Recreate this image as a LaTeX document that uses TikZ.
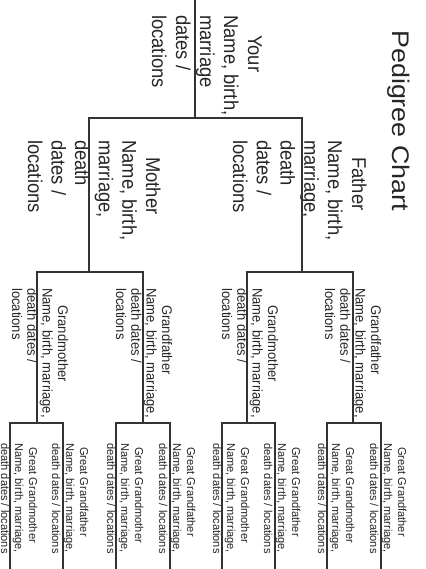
\documentclass[tikz,border=0pt]{standalone}
\usepackage{fontspec}
\setmainfont{Liberation Sans}
\newcommand\pgline[1]{\hbox{#1}}
\newcommand\pgblock[2]{\vtop{\baselineskip=#1\relax #2}}
\tikzset{
  person/.style={rotate=-90, anchor=base west, inner sep=0pt, text=black!85},
  big/.style={person, xscale=0.92, font=\fontsize{20}{24}\selectfont},
  mid/.style={person, xscale=0.93, font=\fontsize{14}{15}\selectfont},
  small/.style={person, xscale=0.96, font=\fontsize{11.5}{14}\selectfont},
  link/.style={draw=black!80, line width=1.6pt}
}
\begin{document}
\begin{tikzpicture}[x=1pt, y=-1pt]
\fill[white] (0,0) rectangle (425,569);
\useasboundingbox (0,0) rectangle (425,569);

% title
\node[person, xscale=1.12, font=\fontsize{24}{28}\selectfont] (title) at (392,30) {Pedigree Chart};

% generation 1-2
\node[big] (you) at (248,15) {\pgblock{24pt}{\pgline{\hspace*{21.7pt}Your}\pgline{Name, birth,}\pgline{marriage}\pgline{dates /}\pgline{locations}}};
\node[big] (father) at (352,140) {\pgblock{23.8pt}{\pgline{\hspace*{18.5pt}Father}\pgline{Name, birth,}\pgline{marriage,}\pgline{death}\pgline{dates /}\pgline{locations}}};
\node[big] (mother) at (146,140) {\pgblock{23.6pt}{\pgline{\hspace*{18.5pt}Mother}\pgline{Name, birth,}\pgline{marriage,}\pgline{death}\pgline{dates /}\pgline{locations}}};

% grandparents
\newcommand\gpar[1]{\pgblock{15.3pt}{\pgline{\hspace*{18.3pt}#1}\pgline{Name, birth, marriage,}\pgline{death dates /}\pgline{locations}}}
\node[mid] (ff) at (371,288) {\gpar{Grandfather}};
\node[mid] (fm) at (268,288) {\gpar{Grandmother}};
\node[mid] (mf) at (162,288) {\gpar{Grandfather}};
\node[mid] (mm) at (58,288) {\gpar{Grandmother}};

% great grandparents
\newcommand\ggpar[1]{\pgblock{14pt}{\pgline{\hspace*{4.2pt}#1}\pgline{Name, birth, marriage,}\pgline{death dates / locations}}}
\node[small] (fff) at (398,443) {\ggpar{Great Grandfather}};
\node[small] (ffm) at (346,443) {\ggpar{Great Grandmother}};
\node[small] (fmf) at (292,443) {\ggpar{Great Grandfather}};
\node[small] (fmm) at (241,443) {\ggpar{Great Grandmother}};
\node[small] (mff) at (187,443) {\ggpar{Great Grandfather}};
\node[small] (mfm) at (135,443) {\ggpar{Great Grandmother}};
\node[small] (mmf) at (80,443) {\ggpar{Great Grandfather}};
\node[small] (mmm) at (29,443) {\ggpar{Great Grandmother}};

% connector coordinates
\coordinate (y0) at (195,0);
\coordinate (y1) at (195,118);
\coordinate (fa1) at (302,118);
\coordinate (mo1) at (89,118);
\coordinate (fa2) at (302,272);
\coordinate (mo2) at (89,272);
\coordinate (ff1) at (353,272);
\coordinate (fm1) at (247,272);
\coordinate (mf1) at (143,272);
\coordinate (mm1) at (37,272);
\coordinate (ff2) at (353,423);
\coordinate (fm2) at (247,423);
\coordinate (mf2) at (143,423);
\coordinate (mm2) at (37,423);
\coordinate (fff1) at (381,423);
\coordinate (ffm1) at (327,423);
\coordinate (fmf1) at (275,423);
\coordinate (fmm1) at (222,423);
\coordinate (mff1) at (170,423);
\coordinate (mfm1) at (116,423);
\coordinate (mmf1) at (63,423);
\coordinate (mmm1) at (10,423);
\coordinate (fff2) at (381,569);
\coordinate (ffm2) at (327,569);
\coordinate (fmf2) at (275,569);
\coordinate (fmm2) at (222,569);
\coordinate (mff2) at (170,569);
\coordinate (mfm2) at (116,569);
\coordinate (mmf2) at (63,569);
\coordinate (mmm2) at (10,569);

\draw[link] (y0) -- (y1);
\draw[link] (fa2) -- (fa1) -- (mo1) -- (mo2);
\draw[link] (ff2) -- (ff1) -- (fm1) -- (fm2);
\draw[link] (mf2) -- (mf1) -- (mm1) -- (mm2);
\draw[link] (fff2) -- (fff1) -- (ffm1) -- (ffm2);
\draw[link] (fmf2) -- (fmf1) -- (fmm1) -- (fmm2);
\draw[link] (mff2) -- (mff1) -- (mfm1) -- (mfm2);
\draw[link] (mmf2) -- (mmf1) -- (mmm1) -- (mmm2);
\end{tikzpicture}
\end{document}
